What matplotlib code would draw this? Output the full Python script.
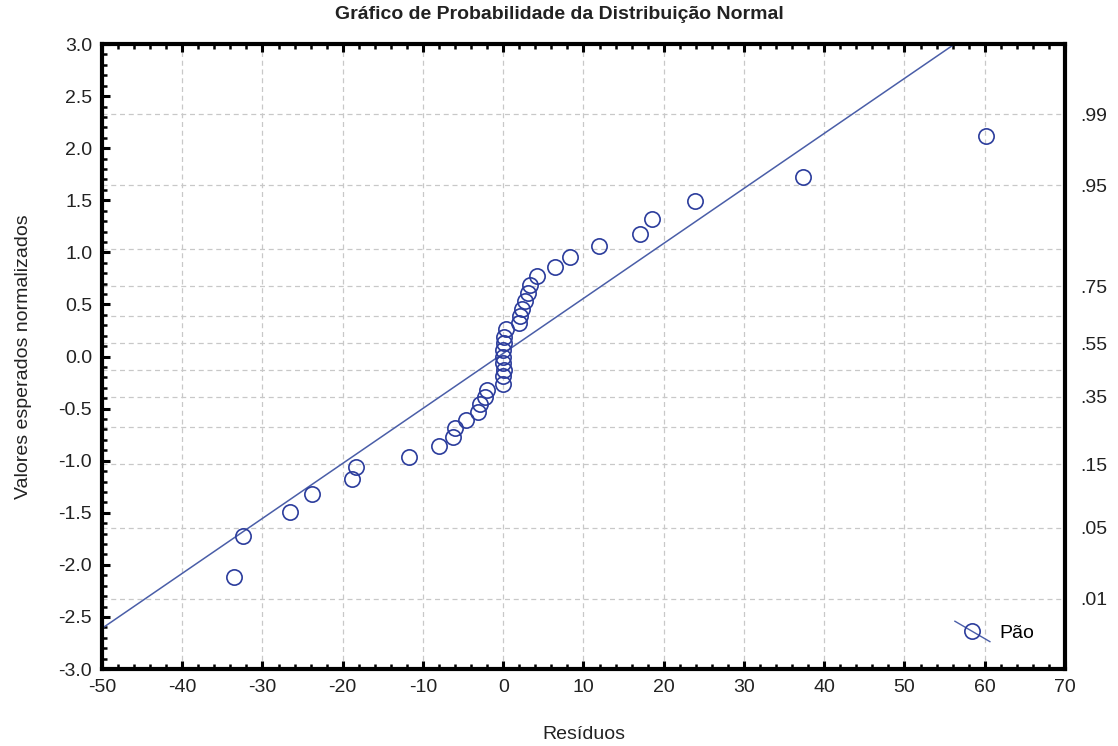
import matplotlib
matplotlib.use("Agg")
import matplotlib.pyplot as plt
from matplotlib.lines import Line2D
from matplotlib.legend_handler import HandlerBase
from matplotlib.ticker import MultipleLocator
from statistics import NormalDist

plt.rcParams['font.family'] = ['Liberation Sans', 'DejaVu Sans']
plt.rcParams['axes.unicode_minus'] = False

# residuals (x) and expected normal values (y)
residuos = [-33.5, -32.4, -26.6, -23.8, -18.8, -18.3, -11.7, -8.0, -6.2, -6.0,
            -4.6, -3.2, -2.9, -2.3, -2.0, 0.0, 0.0, 0.1, 0.0, 0.0,
            0.0, 0.1, 0.1, 0.3, 2.0, 2.1, 2.3, 2.7, 3.1, 3.3,
            4.2, 6.4, 8.3, 11.9, 17.0, 18.5, 23.9, 37.4, 60.2]
esperados = [-2.12, -1.72, -1.49, -1.32, -1.18, -1.06, -0.96, -0.86, -0.77, -0.69,
             -0.61, -0.53, -0.46, -0.39, -0.32, -0.26, -0.19, -0.13, -0.06, 0.00,
             0.06, 0.13, 0.19, 0.26, 0.32, 0.39, 0.46, 0.53, 0.61, 0.69,
             0.77, 0.86, 0.96, 1.06, 1.18, 1.32, 1.49, 1.72, 2.12]

# fitted reference line
line_slope = 0.0528
line_intercept = 0.03

grid_probs = [.01, .05, .15, .25, .35, .45, .55, .65, .75, .85, .95, .99]
label_probs = [.01, .05, .15, .35, .55, .75, .95, .99]
label_text = ['.01', '.05', '.15', '.35', '.55', '.75', '.95', '.99']

mark_color = '#2b3c9c'
line_color = '#4a5ea8'
fs = 14


class DiagHandler(HandlerBase):
    def create_artists(self, legend, orig, xd, yd, w, h, fontsize, trans):
        ln = Line2D([xd, xd + w], [yd + h * 1.2, yd - h * 0.3],
                    color=line_color, lw=1, transform=trans)
        mk = Line2D([xd + w / 2], [yd + h / 2], marker='o', mfc='none',
                    mec=mark_color, ms=11, mew=1.2, ls='none', transform=trans)
        return [ln, mk]


fig = plt.figure(figsize=(11.18, 7.46), dpi=100)
ax = fig.add_axes([0.0912, 0.1032, 0.8614, 0.8378])

nd = NormalDist()
for p in grid_probs:
    ax.axhline(nd.inv_cdf(p), color='#c8c8c8', lw=0.9, ls=(0, (4, 3)), zorder=0)
ax.grid(axis='x', color='#c8c8c8', lw=0.9, ls=(0, (4, 3)), zorder=0)

xs = [-50, 70]
ax.plot(xs, [line_slope * x + line_intercept for x in xs], color=line_color, lw=1.1, zorder=2)
ax.plot(residuos, esperados, 'o', mfc='none', mec=mark_color, ms=11, mew=1.2, zorder=3)

ax.set_xlim(-50, 70)
ax.set_ylim(-3, 3)
ax.xaxis.set_major_locator(MultipleLocator(10))
ax.xaxis.set_minor_locator(MultipleLocator(2))
ax.yaxis.set_major_locator(MultipleLocator(0.5))
ax.yaxis.set_minor_locator(MultipleLocator(0.1))
ax.yaxis.set_major_formatter(matplotlib.ticker.FormatStrFormatter('%.1f'))

for s in ax.spines.values():
    s.set_linewidth(3)
ax.tick_params(which='both', direction='in', top=True, right=True, color='black',
               labelsize=fs, labelcolor='#222222')
ax.tick_params(which='major', length=6, width=2.2)
ax.tick_params(which='minor', length=3.5, width=1.8)
ax.tick_params(axis='x', which='major', pad=7)
ax.tick_params(axis='y', which='major', pad=7)

ax2 = ax.twinx()
ax2.set_ylim(-3, 3)
ax2.set_yticks([nd.inv_cdf(p) for p in label_probs])
ax2.set_yticklabels(label_text)
ax2.tick_params(length=0, pad=11, labelsize=fs, labelcolor='#222222')
for s in ax2.spines.values():
    s.set_visible(False)

handle = Line2D([], [], marker='o', color=line_color)
ax.legend([handle], ['Pão'], handler_map={handle: DiagHandler()}, loc='center',
          bbox_to_anchor=(0.927, 0.058), frameon=False, fontsize=fs,
          handlelength=1.8, handletextpad=0.5)

fig.text(0.5, 0.981, 'Gráfico de Probabilidade da Distribuição Normal',
         ha='center', va='center', fontsize=fs, fontweight='bold', color='#222222')
ax.set_xlabel('Resíduos', fontsize=fs, labelpad=22, color='#222222')
ax.set_ylabel('Valores esperados normalizados', fontsize=fs, labelpad=19, color='#222222')

fig.savefig('out.png', dpi=100)
